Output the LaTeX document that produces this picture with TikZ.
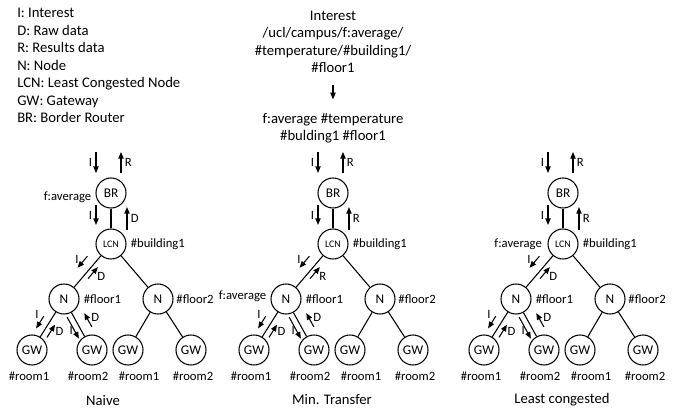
\documentclass[tikz,border=0pt]{standalone}
\usepackage{fontspec}
\setmainfont{Carlito}
\usetikzlibrary{arrows.meta, calc, positioning}

% short arrow beside the edge #1--#2, from fraction #3 to #4, pushed aside by #5 (dist!angle)
\newcommand{\sideflow}[6]{%
  \draw[flow] ($(#1)!#3!(#2)!#5:(#2)$) -- #6 ($(#1)!#4!(#2)!#5:(#2)$);}

\tikzset{
  unit/.style={circle, draw, line width=0.8pt, minimum size=22.5pt, inner sep=0pt,
    font=\fontsize{10}{12}\selectfont},
  lcnunit/.style={unit, font=\fontsize{7.5}{9}\selectfont},
  link/.style={line width=0.8pt},
  flow/.style={-{Triangle[length=5pt,width=4pt]}, line width=0.8pt},
  tag/.style={font=\fontsize{9.5}{11}\selectfont, inner sep=1pt},
  body/.style={font=\fontsize{11}{13.1}\selectfont, inner sep=0pt},
}

\begin{document}
\begin{tikzpicture}[x=0.75pt, y=-0.75pt]
  \useasboundingbox (0,0) rectangle (681,411);

  % key
  \node[body, anchor=west, align=left] (key) at (17,65.5)
    {I: Interest\\D: Raw data\\R: Results data\\N: Node\\LCN: Least Congested Node\\GW: Gateway\\BR: Border Router};

  % interest name and how it is split
  \node[body, align=center] (query) at (333,42)
    {Interest\\/ucl/campus/f:average/\\\#temperature/\#building1/\\\#floor1};
  \node[body, align=center] (prefix) at (333,128)
    {f:average \#temperature\\\#bulding1 \#floor1};
  \draw[flow, shorten <=9pt, shorten >=10pt] (query) -- (prefix);

  % the three trees
  \foreach \X/\tr/\cx/\ttl/\upa/\upb in {111/n/103/Naive/D/D, 333/m/332/Min. Transfer/R/R, 563/l/562/Least congested/R/D}{
    \node[unit] (\tr-br) at (\X,193) {BR};
    \node[lcnunit] (\tr-lcn) at (\X,244) {LCN};
    \node[unit] (\tr-nl) at (\X-47,299) {N};
    \node[unit] (\tr-nr) at (\X+47,299) {N};
    \node[unit] (\tr-g1) at (\X-79,350) {GW};
    \node[unit] (\tr-g2) at (\X-19,350) {GW};
    \node[unit] (\tr-g3) at (\X+17,350) {GW};
    \node[unit] (\tr-g4) at (\X+80,350) {GW};
    \draw[link] (\tr-br) -- (\tr-lcn);
    \draw[link] (\tr-lcn) -- (\tr-nl);
    \draw[link] (\tr-lcn) -- (\tr-nr);
    \draw[link] (\tr-nl) -- (\tr-g1);
    \draw[link] (\tr-nl) -- (\tr-g2);
    \draw[link] (\tr-nr) -- (\tr-g3);
    \draw[link] (\tr-nr) -- (\tr-g4);

    % names
    \node[tag, right=2pt of \tr-lcn] (\tr-b1) {\#building1};
    \node[tag, right=2pt of \tr-nl] (\tr-f1) {\#floor1};
    \node[tag, right=1pt of \tr-nr] (\tr-f2) {\#floor2};
    \node[tag] (\tr-r1) at ($(\tr-g1)+(-3,26)$) {\#room1};
    \node[tag] (\tr-r2) at ($(\tr-g2)+(-4,26)$) {\#room2};
    \node[tag] (\tr-r3) at ($(\tr-g3)+(11,26)$) {\#room1};
    \node[tag] (\tr-r4) at ($(\tr-g4)+(2,26)$) {\#room2};
    \node[body] (\tr-cap) at (\cx,400) {\ttl};

    % traffic above the border router
    \coordinate (\tr-i0) at ($(\tr-br)+(-15,-41)$);
    \coordinate (\tr-i1) at ($(\tr-br)+(-15,-20)$);
    \coordinate (\tr-o0) at ($(\tr-br)+(10,-20)$);
    \coordinate (\tr-o1) at ($(\tr-br)+(10,-41)$);
    \draw[flow] (\tr-i0) -- node[tag, left=1.5pt]{I} (\tr-i1);
    \draw[flow] (\tr-o0) -- node[tag, right=1.5pt]{R} (\tr-o1);

    % traffic beside the edges
    \sideflow{\tr-br}{\tr-lcn}{.235}{.627}{11.25pt!270}{node[tag, left=1.5pt]{I}}
    \sideflow{\tr-br}{\tr-lcn}{.725}{.275}{12pt!90}{node[tag, right=1.5pt]{\upa}}
    \sideflow{\tr-lcn}{\tr-nl}{.34}{.55}{7.5pt!270}{node[tag, left=1.5pt, yshift=2pt]{I}}
    \sideflow{\tr-lcn}{\tr-nl}{.57}{.36}{3.75pt!90}{node[tag, right=2pt, yshift=-2.5pt]{\upb}}
    \sideflow{\tr-nl}{\tr-g1}{.42}{.66}{6pt!270}{node[tag, pos=.1, left=2pt, yshift=2pt]{I}}
    \sideflow{\tr-nl}{\tr-g1}{.69}{.44}{4.5pt!90}{node[tag, right=2pt]{D}}
    \sideflow{\tr-nl}{\tr-g2}{.3}{.72}{4.5pt!270}{node[tag, pos=.75, left=1pt, yshift=2pt]{I}}
    \sideflow{\tr-nl}{\tr-g2}{.65}{.38}{8.25pt!90}{node[tag, right=1pt, yshift=2pt]{D}}
  }

  % where the average is computed
  \node[tag, left=2pt of n-br, yshift=-3pt] (n-avg) {f:average};
  \node[tag, left=2pt of m-nl, yshift=2pt] (m-avg) {f:average};
  \node[tag, left=3pt of l-lcn] (l-avg) {f:average};
\end{tikzpicture}
\end{document}
